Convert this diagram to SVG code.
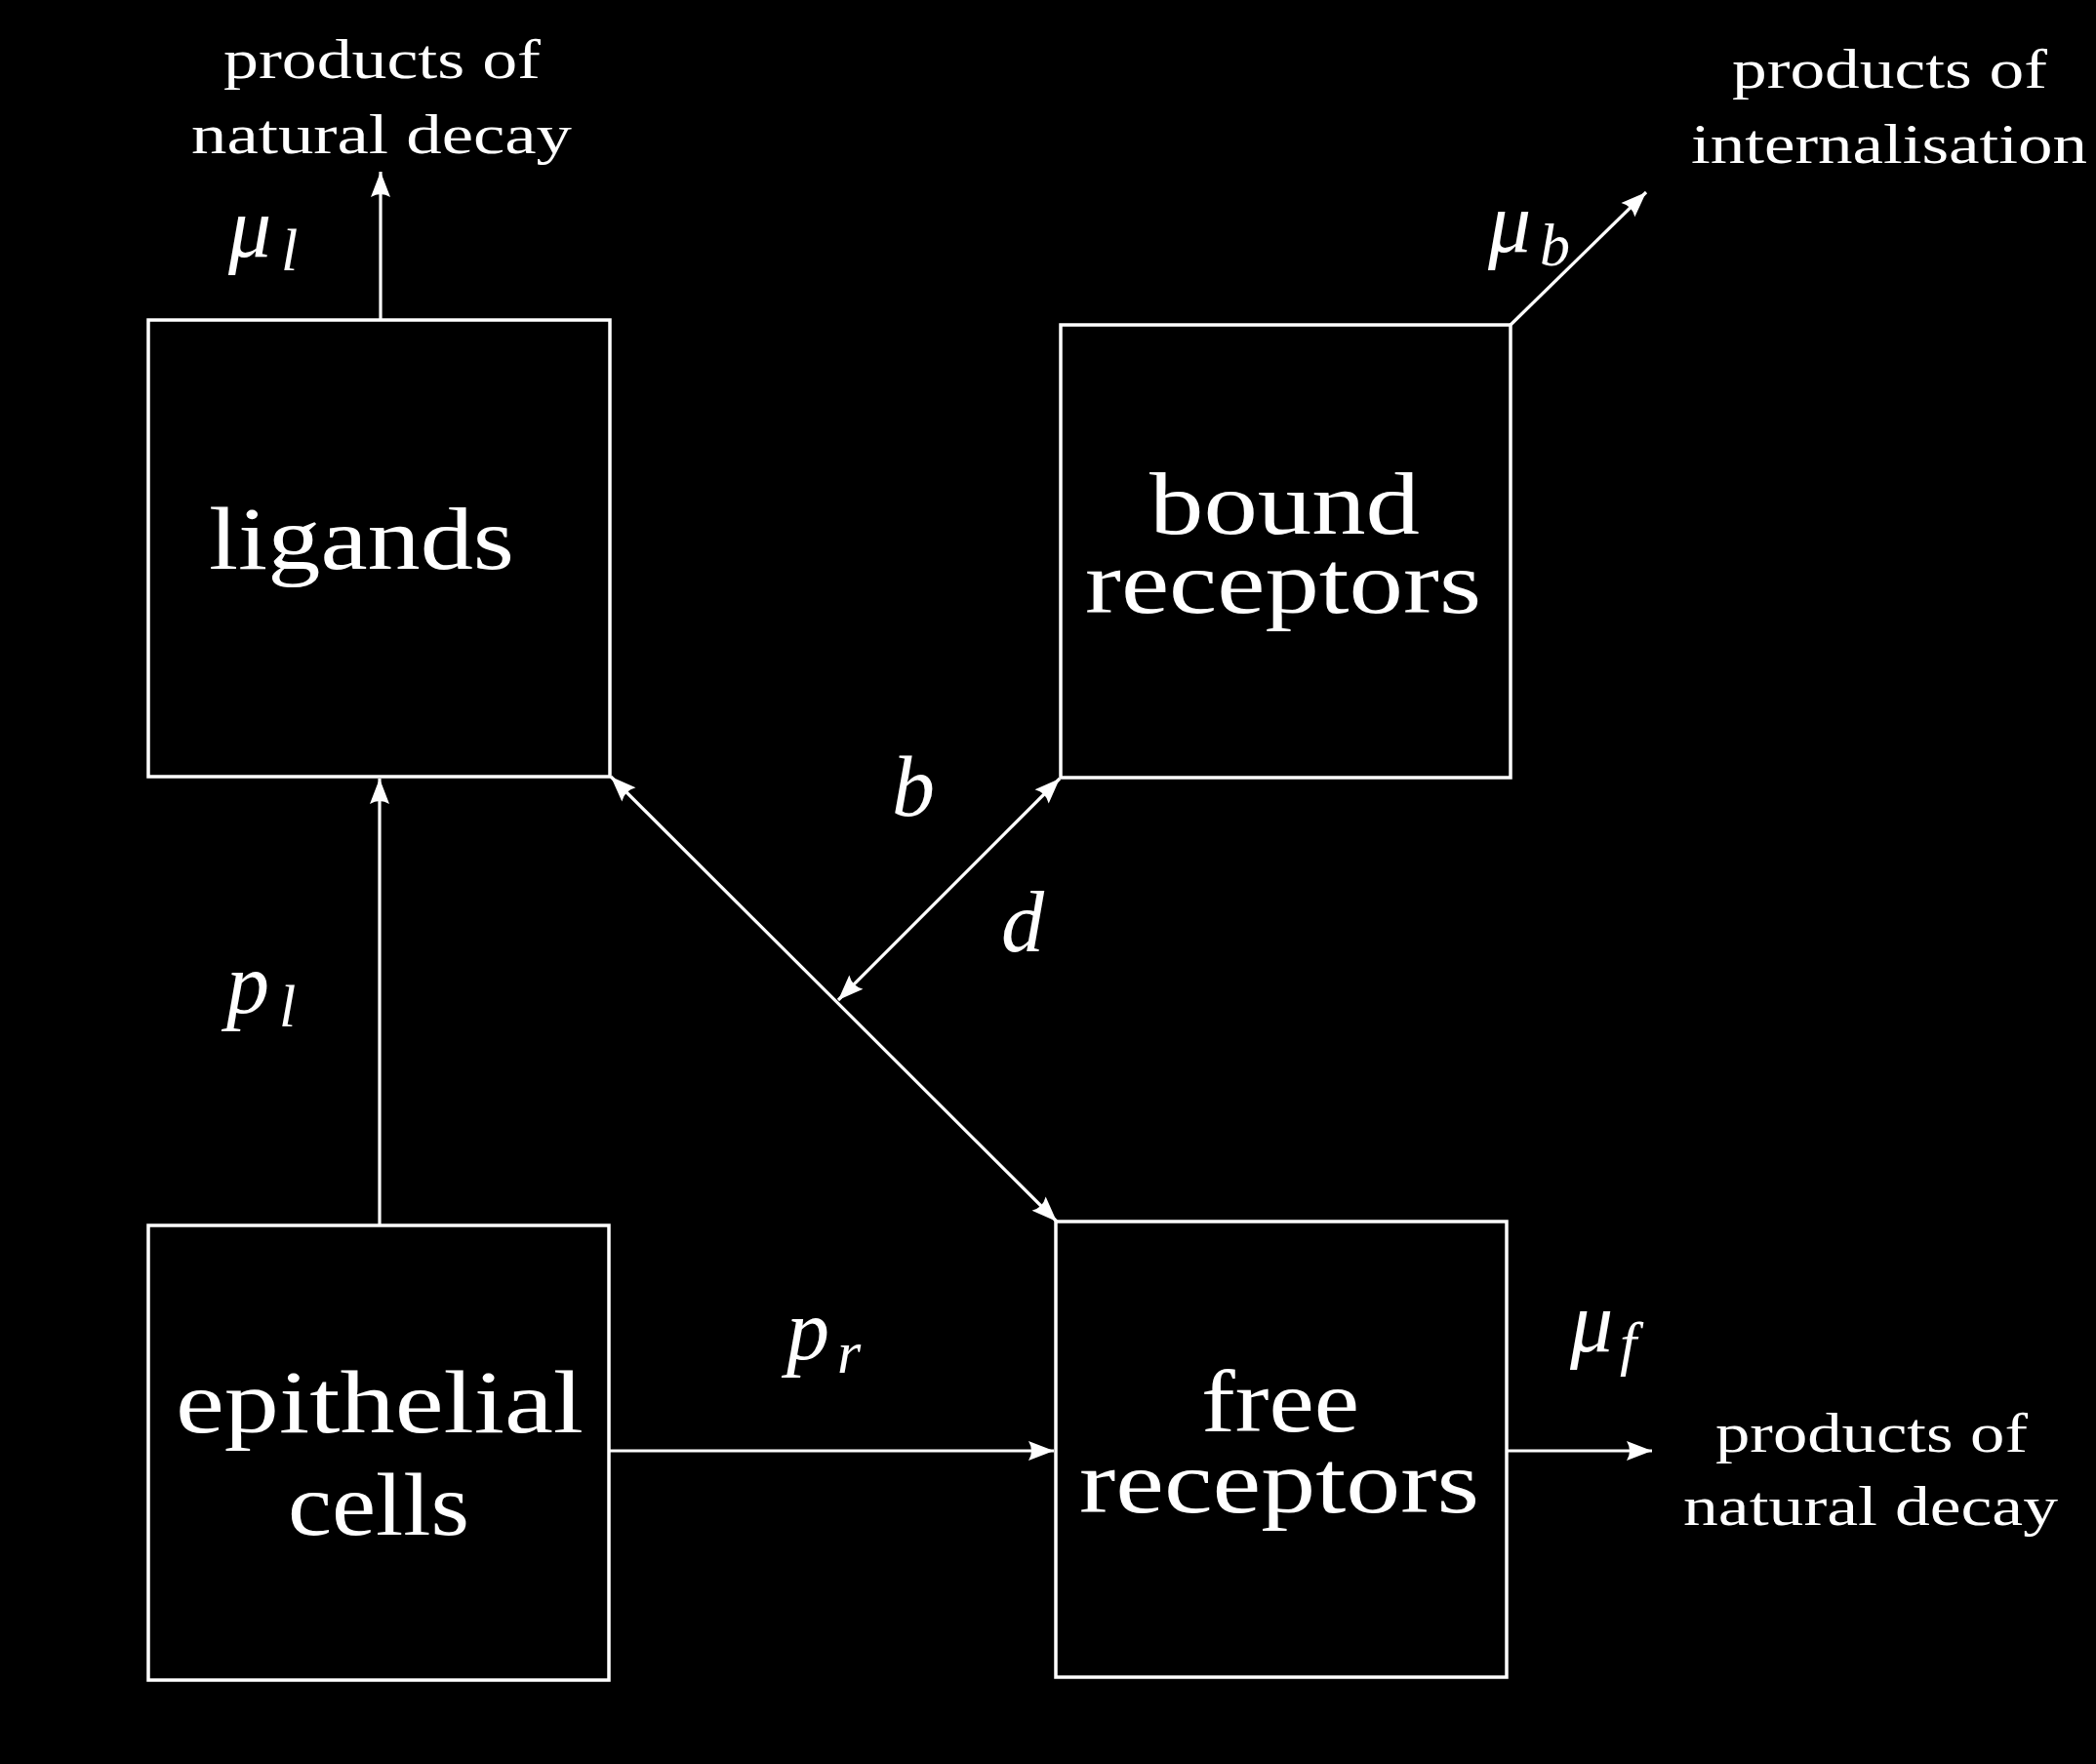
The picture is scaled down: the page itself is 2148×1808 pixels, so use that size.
<svg xmlns="http://www.w3.org/2000/svg" width="2148" height="1808" viewBox="0 0 2148 1808">
<defs>
<style>
.box{fill:#000;stroke:#fff;stroke-width:3.5}
.ln{fill:none;stroke:#fff;stroke-width:3.2}
.t{fill:#fff;font-family:"Liberation Serif","Times New Roman",serif}
.big{font-size:92px}
.sm{font-size:58px}
.m{font-size:88px;font-style:italic}
.s{font-size:62px;font-style:italic}
</style>
<marker id="ah" viewBox="-28 -12 30 24" refX="0" refY="0" markerWidth="30" markerHeight="24" markerUnits="userSpaceOnUse" orient="auto-start-reverse">
<path d="M0,0 L-26,-10 Q-20,0 -26,10 Z" fill="#fff"/>
</marker>
</defs>
<rect x="0" y="0" width="2148" height="1808" fill="#000"/>

<g id="connectors">
<line class="ln" x1="390" y1="328" x2="390" y2="176" marker-end="url(#ah)"/>
<line class="ln" x1="389" y1="1256" x2="389" y2="798" marker-end="url(#ah)"/>
<line class="ln" x1="624" y1="1487" x2="1080" y2="1487" marker-end="url(#ah)"/>
<line class="ln" x1="1544" y1="1487" x2="1693" y2="1487" marker-end="url(#ah)"/>
<line class="ln" x1="1548" y1="333" x2="1687" y2="197" marker-end="url(#ah)"/>
<line class="ln" x1="626" y1="796" x2="1083" y2="1252" marker-start="url(#ah)" marker-end="url(#ah)"/>
<line class="ln" x1="1086" y1="798" x2="859" y2="1025" marker-start="url(#ah)" marker-end="url(#ah)"/>
</g>

<g id="ligands">
<rect class="box" x="152" y="328" width="473" height="468"/>
<text class="t big" x="214" y="583" textLength="313" lengthAdjust="spacingAndGlyphs">ligands</text>
</g>
<g id="bound-receptors">
<rect class="box" x="1087" y="333" width="461" height="464"/>
<text class="t big" x="1178" y="547" textLength="277" lengthAdjust="spacingAndGlyphs">bound</text>
<text class="t big" x="1112" y="628" textLength="406" lengthAdjust="spacingAndGlyphs">receptors</text>
</g>
<g id="epithelial-cells">
<rect class="box" x="152" y="1256" width="472" height="466"/>
<text class="t big" x="180" y="1468" textLength="418" lengthAdjust="spacingAndGlyphs">epithelial</text>
<text class="t big" x="295" y="1573" textLength="186" lengthAdjust="spacingAndGlyphs">cells</text>
</g>
<g id="free-receptors">
<rect class="box" x="1082" y="1252" width="462" height="467"/>
<text class="t big" x="1231" y="1467" textLength="162" lengthAdjust="spacingAndGlyphs">free</text>
<text class="t big" x="1106" y="1550" textLength="410" lengthAdjust="spacingAndGlyphs">receptors</text>
</g>

<g id="decay-ligands">
<text class="t sm" x="229" y="80" textLength="325" lengthAdjust="spacingAndGlyphs">products of</text>
<text class="t sm" x="196" y="157" textLength="390" lengthAdjust="spacingAndGlyphs">natural decay</text>
</g>
<g id="internalisation">
<text class="t sm" x="1775" y="90" textLength="323" lengthAdjust="spacingAndGlyphs">products of</text>
<text class="t sm" x="1733" y="167" textLength="406" lengthAdjust="spacingAndGlyphs">internalisation</text>
</g>
<g id="decay-free">
<text class="t sm" x="1758" y="1488" textLength="320" lengthAdjust="spacingAndGlyphs">products of</text>
<text class="t sm" x="1725" y="1563" textLength="384" lengthAdjust="spacingAndGlyphs">natural decay</text>
</g>

<g id="labels">
<text class="t m" x="234" y="263">μ</text><text class="t s" x="288" y="277">l</text>
<text class="t m" x="232" y="1038">p</text><text class="t s" x="286" y="1052">l</text>
<text class="t m" x="806" y="1393">p</text><text class="t s" x="858" y="1407">r</text>
<text class="t m" x="1525" y="258">μ</text><text class="t s" x="1578" y="272">b</text>
<text class="t m" x="1609" y="1385">μ</text><text class="t s" x="1660" y="1398">f</text>
<text class="t m" x="914" y="836">b</text>
<text class="t m" x="1026" y="975">d</text>
</g>
</svg>
